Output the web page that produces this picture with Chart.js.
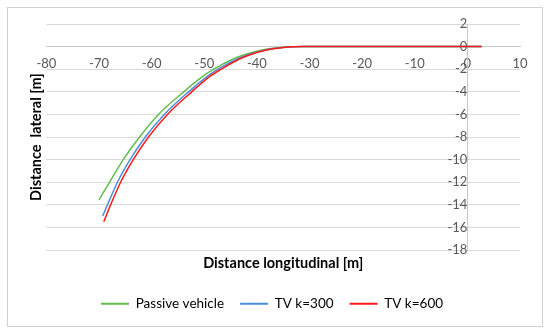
<!DOCTYPE html>
<html lang="en">
<head>
  <meta charset="UTF-8" />
  <title>Distance lateral vs longitudinal</title>
  <script src="https://cdn.jsdelivr.net/npm/chart.js"></script>
  <style>
    body {
      margin: 0;
      background: #ffffff;
    }
    .wrap {
      position: relative;
      width: 550px;
      height: 333px;
    }
    .frame {
      position: absolute;
      left: 7px;
      top: 7px;
      width: 534px;
      height: 318px;
      border: 1px solid #d0d0d0;
    }
    canvas {
      position: absolute;
      left: 0;
      top: 0;
    }
  </style>
</head>
<body>
  <div class="wrap">
    <div class="frame"></div>
    <canvas id="trajChart" width="550" height="333"></canvas>
  </div>

  <script>
    // trajectories (x = longitudinal, y = lateral, metres)
    const passiveX = [-70.0, -68.0, -65.4, -62.3, -58.7, -53.9, -50.6, -48.2, -44.2, -41.0, -37.8, -35.5, -33.2, -31, 2.7];
    const passiveY = [-13.55, -12, -10, -8, -6, -4, -2.75, -2, -1.03, -0.52, -0.19, -0.07, -0.015, 0, 0];

    const tv300X = [-69.3, -68.4, -66.5, -64.1, -61.2, -57.6, -53.0, -49.6, -47.4, -43.4, -40.2, -37.1, -35.0, -33.0, -31, 2.7];
    const tv300Y = [-14.98, -14, -12, -10, -8, -6, -4, -2.7, -2, -1.03, -0.52, -0.19, -0.07, -0.015, 0, 0];

    const tv600X = [-69.1, -67.8, -65.9, -63.5, -60.6, -57.0, -52.4, -49.0, -46.8, -43.0, -40.0, -37.0, -35.0, -33.0, -31, 2.7];
    const tv600Y = [-15.5, -14, -12, -10, -8, -6, -4, -2.65, -2, -1.03, -0.52, -0.19, -0.07, -0.015, 0, 0];

    const seriesNames = ['Passive vehicle', 'TV k=300', 'TV k=600'];
    const seriesColors = ['#62bd4f', '#4a8fdc', '#ff1a1a'];

    const xMin = -80, xMax = 10, xStep = 10;
    const yMin = -18, yMax = 2, yStep = 2;

    const pts = (xs, ys) => xs.map((x, i) => ({ x: x, y: ys[i] }));

    const lineSet = (i, xs, ys, order) => ({
      label: seriesNames[i],
      data: pts(xs, ys),
      borderColor: seriesColors[i],
      backgroundColor: seriesColors[i],
      borderWidth: 1.5,
      pointRadius: 0,
      showLine: true,
      cubicInterpolationMode: 'monotone',
      order: order
    });

    const gridGrey = '#d9d9d9';
    const tickGrey = '#595959';
    const titleFont = { family: 'Lato', size: 14.5, weight: 'bold' };

    new Chart(document.getElementById('trajChart'), {
      type: 'scatter',
      data: {
        datasets: [
          lineSet(0, passiveX, passiveY, 2),
          lineSet(1, tv300X, tv300Y, 1),
          lineSet(2, tv600X, tv600Y, 0)
        ]
      },
      options: {
        responsive: false,
        animation: false,
        layout: {
          padding: { left: 24, right: 30, top: 24, bottom: 12.5 }
        },
        font: { family: 'Lato, "Open Sans", sans-serif', size: 13 },
        plugins: {
          tooltip: { enabled: false },
          legend: {
            position: 'bottom',
            labels: {
              color: '#000000',
              font: { family: 'Lato', size: 13.5 },
              boxWidth: 28,
              boxHeight: 2,
              padding: 16,
              sort: (a, b) => a.datasetIndex - b.datasetIndex,
              generateLabels: (chart) =>
                Chart.defaults.plugins.legend.labels.generateLabels(chart).map(l => {
                  l.lineWidth = 0;
                  return l;
                })
            }
          }
        },
        scales: {
          x: {
            type: 'linear',
            position: { y: 0 },
            min: xMin,
            max: xMax,
            ticks: {
              stepSize: xStep,
              color: tickGrey,
              padding: 9,
              font: { family: 'Lato', size: 13 }
            },
            grid: { display: false, drawTicks: false },
            border: { display: true, color: '#c8c8c8' }
          },
          y: {
            type: 'linear',
            position: { x: 0 },
            min: yMin,
            max: yMax,
            ticks: {
              stepSize: yStep,
              color: tickGrey,
              padding: 8,
              font: { family: 'Lato', size: 13 }
            },
            grid: { color: gridGrey, drawTicks: false },
            border: { display: true, color: '#c8c8c8' }
          },
          xTitle: {
            type: 'linear',
            axis: 'x',
            position: 'bottom',
            ticks: { display: false },
            grid: { display: false, drawTicks: false },
            border: { display: false },
            title: {
              display: true,
              text: 'Distance longitudinal [m]',
              color: '#000000',
              font: titleFont,
              padding: { top: 4.5, bottom: 9 }
            }
          },
          yTitle: {
            type: 'linear',
            axis: 'y',
            position: 'left',
            ticks: { display: false },
            grid: { display: false, drawTicks: false },
            border: { display: false },
            title: {
              display: true,
              text: 'Distance  lateral [m]',
              color: '#000000',
              font: titleFont,
              padding: { top: 4, bottom: 1 }
            }
          }
        }
      }
    });
  </script>
</body>
</html>
